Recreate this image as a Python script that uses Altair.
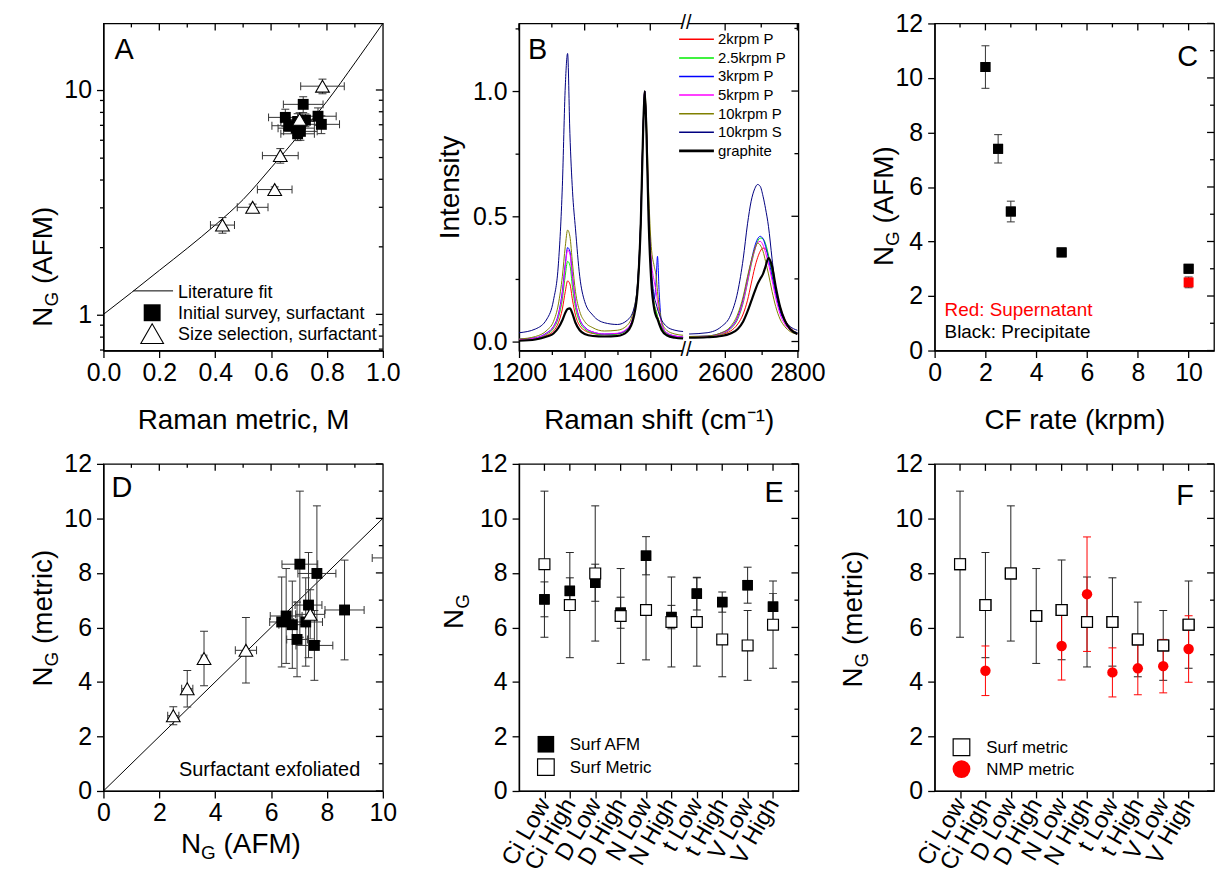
import altair as alt
import pandas as pd

FONT = "Liberation Sans"
W, H = 281, 329
TK, TKm = 7, 4
LW = 1.3
LBL, TTL = 25, 28

# ---------------- data ----------------
# Panel A
a_fit_M = [0.0, 0.1, 0.2, 0.3, 0.4, 0.5, 0.6, 0.7, 0.8, 0.9, 1.0]
a_fit_N = [1.0, 1.25, 1.57, 1.97, 2.5, 3.25, 4.5, 6.3, 8.9, 13.2, 19.8]
a_sq_M = [0.78, 0.723, 0.768, 0.705, 0.715, 0.695, 0.695, 0.663, 0.651, 0.69]
a_sq_Merr = [0.065, 0.06, 0.065, 0.06, 0.071, 0.06, 0.06, 0.06, 0.06, 0.065]
a_sq_N = [7.03, 7.34, 7.64, 6.54, 8.63, 6.38, 7.24, 6.93, 7.55, 6.76]
a_sq_Nerr = [0.64, 0.48, 0.68, 0.57, 0.7, 0.43, 0.6, 0.37, 0.66, 0.48]
a_tr_M = [0.784, 0.702, 0.633, 0.613, 0.534, 0.426]
a_tr_Merr = [0.078, 0.065, 0.064, 0.062, 0.055, 0.043]
a_tr_N = [10.4, 7.4, 5.1, 3.6, 3.0, 2.5]
a_tr_Nerr = [0.78, 0.52, 0.38, 0.1, 0.1, 0.2]

# Panel B
b_x1 = [1200, 1250, 1285, 1305, 1320, 1332, 1341, 1348, 1355, 1363, 1372, 1385, 1400,
        1425, 1460, 1500, 1530, 1550, 1562, 1571, 1578, 1583, 1588, 1595, 1603, 1612,
        1618, 1622, 1627, 1635, 1650, 1675, 1700]
b_x2 = [2500, 2550, 2590, 2615, 2635, 2650, 2662, 2672, 2682, 2690, 2697, 2705, 2712,
        2720, 2730, 2740, 2752, 2765, 2780, 2800]
b_names = ["2krpm P", "2.5krpm P", "3krpm P", "5krpm P", "10krpm P", "10krpm S", "graphite"]
b_colors = ["#ff0000", "#00ee00", "#0000ff", "#ff00ff", "#808000", "#000080", "#000000"]
b_widths = [1, 1, 1, 1, 1, 1, 2.2]
red1 = [.006, .011, .025, .042, .075, .13, .2, .242, .23, .165, .105, .063, .044, .032, .027, .03, .048,
        .105, .22, .47, .83, 1.0, .85, .5, .26, .15, .12, .1, .08, .055, .03, .02, .016]
green1 = [.006, .012, .03, .052, .095, .17, .265, .32, .305, .215, .135, .078, .05, .034, .027, .03, .048,
          .105, .22, .47, .83, 1.0, .85, .5, .26, .15, .12, .1, .08, .055, .03, .02, .016]
blue1 = [.01, .015, .035, .06, .11, .2, .31, .375, .36, .26, .16, .09, .058, .038, .03, .032, .05,
         .11, .23, .48, .84, 1.0, .86, .5, .26, .17, .25, .34, .2, .07, .035, .022, .018]
magenta1 = [.008, .014, .033, .058, .105, .19, .3, .365, .35, .25, .155, .088, .056, .038, .03, .033, .052,
            .11, .23, .48, .84, 1.0, .87, .55, .33, .24, .2, .16, .12, .07, .035, .022, .018]
olive1 = [.01, .02, .045, .08, .15, .26, .38, .445, .42, .31, .2, .12, .08, .055, .042, .045, .065,
          .13, .25, .5, .85, 1.0, .9, .6, .38, .3, .26, .2, .14, .08, .045, .03, .025]
navy1 = [.035, .05, .09, .165, .31, .62, 1.02, 1.15, .83, .6, .45, .26, .16, .105, .075, .068, .085,
         .13, .25, .5, .85, 1.0, .86, .52, .3, .18, .15, .13, .11, .085, .06, .045, .04]
graphite1 = [.003, .008, .02, .032, .055, .085, .115, .13, .132, .11, .075, .045, .03, .022, .02, .022, .04,
             .1, .22, .47, .83, 1.0, .85, .48, .24, .13, .1, .09, .07, .045, .025, .015, .012]
red2 = [.018, .02, .028, .042, .07, .11, .165, .23, .295, .335, .36, .373, .37, .34, .28, .21, .14, .09, .055, .035]
green2 = [.018, .02, .03, .05, .09, .155, .235, .305, .365, .4, .413, .41, .39, .345, .275, .2, .13, .085, .052, .035]
blue2 = [.02, .022, .035, .055, .1, .17, .25, .32, .38, .41, .42, .41, .38, .33, .26, .19, .12, .08, .05, .035]
magenta2 = [.018, .02, .032, .052, .095, .16, .24, .31, .365, .395, .4, .385, .355, .31, .245, .175, .11, .07, .045, .03]
olive2 = [.02, .022, .035, .06, .11, .18, .26, .32, .37, .393, .385, .36, .32, .27, .2, .14, .09, .06, .04, .03]
navy2 = [.03, .035, .06, .105, .2, .33, .47, .56, .61, .627, .62, .58, .53, .46, .33, .21, .13, .085, .06, .045]
graphite2 = [.015, .017, .022, .032, .05, .08, .12, .16, .2, .23, .25, .27, .3, .333, .3, .22, .14, .085, .05, .03]
b_seg1 = [red1, green1, blue1, magenta1, olive1, navy1, graphite1]
b_seg2 = [red2, green2, blue2, magenta2, olive2, navy2, graphite2]

# Panel C
c_x = [2, 2.5, 3, 5, 10]
c_y = [10.4, 7.4, 5.1, 3.6, 3.0]
c_err = [0.78, 0.52, 0.38, 0.1, 0.1]
c_red_x = [10]
c_red_y = [2.5]
c_red_err = [0.2]

# Panels D, E, F
cats = ["Ci Low", "Ci High", "D Low", "D High", "N Low", "N High", "t Low", "t High", "V Low", "V High"]
surf_afm = [7.03, 7.34, 7.64, 6.54, 8.63, 6.38, 7.24, 6.93, 7.55, 6.76]
surf_afm_err = [0.64, 0.48, 0.68, 0.57, 0.7, 0.43, 0.6, 0.37, 0.66, 0.48]
surf_met = [8.32, 6.82, 7.98, 6.42, 6.64, 6.2, 6.2, 5.56, 5.34, 6.1]
surf_met_err = [2.68, 1.93, 2.48, 1.74, 1.83, 1.65, 1.62, 1.37, 1.28, 1.6]
d_tr_x = [2.5, 3.0, 3.6, 5.1, 7.4, 10.4]
d_tr_xerr = [0.2, 0.2, 0.1, 0.38, 0.52, 0.78]
d_tr_y = [2.76, 3.75, 4.86, 5.16, 6.48, 8.55]
d_tr_yerr = [0.33, 0.67, 1.0, 1.2, 0.9, 1.0]
nmp_cats = ["Ci High", "N Low", "N High", "t Low", "t High", "V Low", "V High"]
nmp_met = [4.41, 5.32, 7.22, 4.35, 4.5, 4.58, 5.21]
nmp_err = [0.91, 1.25, 2.1, 0.9, 0.97, 0.98, 1.22]

one = pd.DataFrame({"k": [0]})


# ---------------- helpers ----------------
def ax(values, major, fmt, **kw):
    d = dict(values=values,
             labelExpr=f"({major}) ? format(datum.value, '{fmt}') : ''",
             tickSize={"condition": {"test": major, "value": TK}, "value": TKm})
    d.setdefault("title", None)
    d.update(kw)
    return alt.Axis(**d)


def label(s, x, y, size, color="black", align="left", baseline="alphabetic", angle=None):
    props = dict(text=s, fontSize=size, color=color, align=align, baseline=baseline, font=FONT)
    if angle is not None:
        props["angle"] = angle
    return alt.Chart(one).mark_text(**props).encode(x=alt.value(x), y=alt.value(y))


def ng_v(x, y, rest):
    out = [label("N", x, y, TTL, angle=270), label("G", x + 6, y - 20.2, 19, angle=270)]
    if rest:
        out.append(label(rest, x, y - 42.8, TTL, angle=270))
    return out


def ng_h(x, y, rest):
    return [label("N", x, y, TTL), label("G", x + 20.2, y + 6, 19), label(rest, x + 42.8, y, TTL)]


def xenc(field, xs, sort=None):
    if sort is not None:
        return alt.X(f"{field}:N", scale=xs, sort=sort)
    return alt.X(f"{field}:Q", scale=xs)


def yenc(field, ys):
    return alt.Y(f"{field}:Q", scale=ys)


def top_ticks(major, minor, xs, sort=None):
    out = []
    for grp, size in ((major, TK), (minor, TKm)):
        if grp:
            df = pd.DataFrame({"v": grp})
            out.append(alt.Chart(df).mark_rule(color="black", strokeWidth=LW).encode(
                x=xenc("v", xs, sort), y=alt.value(0), y2=alt.value(size)))
    return out


def right_ticks(major, minor, ys):
    out = []
    for grp, size in ((major, TK), (minor, TKm)):
        if grp:
            df = pd.DataFrame({"v": grp})
            out.append(alt.Chart(df).mark_rule(color="black", strokeWidth=LW).encode(
                y=yenc("v", ys), x=alt.value(W), x2=alt.value(W - size)))
    return out


def yerrs(df, xf, yf, ef, xs, ys, color="#333333", cap=8, sort=None, clip=False):
    d = df.copy()
    d["lo"] = d[yf] - d[ef]
    d["hi"] = d[yf] + d[ef]
    base = alt.Chart(d)
    X = xenc(xf, xs, sort)
    r = base.mark_rule(color=color, strokeWidth=1, clip=clip).encode(x=X, y=yenc("lo", ys), y2="hi:Q")
    c1 = base.mark_tick(orient="horizontal", size=cap, thickness=1, color=color, clip=clip, opacity=1).encode(
        x=X, y=yenc("lo", ys))
    c2 = base.mark_tick(orient="horizontal", size=cap, thickness=1, color=color, clip=clip, opacity=1).encode(
        x=X, y=yenc("hi", ys))
    return [r, c1, c2]


def xerrs(df, xf, yf, ef, xs, ys, color="#333333", cap=8, clip=False):
    d = df.copy()
    d["lo"] = d[xf] - d[ef]
    d["hi"] = d[xf] + d[ef]
    base = alt.Chart(d)
    Y = yenc(yf, ys)
    r = base.mark_rule(color=color, strokeWidth=1, clip=clip).encode(y=Y, x=xenc("lo", xs), x2="hi:Q")
    c1 = base.mark_tick(orient="vertical", size=cap, thickness=1, color=color, clip=clip, opacity=1).encode(
        y=Y, x=xenc("lo", xs))
    c2 = base.mark_tick(orient="vertical", size=cap, thickness=1, color=color, clip=clip, opacity=1).encode(
        y=Y, x=xenc("hi", xs))
    return [r, c1, c2]


def sq_filled(size=110, color="black"):
    return dict(shape="square", filled=True, color=color, size=size, opacity=1)


def sq_open(size=120):
    return dict(shape="square", filled=True, fill="white", stroke="black", strokeWidth=1.2, size=size, opacity=1)


def tri_open(size=170):
    return dict(shape="triangle-up", filled=True, fill="white", stroke="black", strokeWidth=1.1, size=size, opacity=1)


EVEN = "datum.value % 2 == 0"
XTP = 21  # bottom axis title padding

# ---------------- Panel A ----------------
xsA = alt.Scale(domain=[0, 1], nice=False, zero=False)
ysA = alt.Scale(type="log", domain=[0.69, 19.8], nice=False)
a_yvals = [0.7, 0.8, 0.9, 1, 2, 3, 4, 5, 6, 7, 8, 9, 10]
a_major_x = "abs(round(datum.value*5) - datum.value*5) < 0.001"
fitA = pd.DataFrame({"M": a_fit_M, "N": a_fit_N})
lineA = alt.Chart(fitA).mark_line(color="black", strokeWidth=1, interpolate="monotone").encode(
    x=alt.X("M:Q", scale=xsA,
            axis=ax([i / 10 for i in range(11)], a_major_x, ".1f", title="Raman metric, M", titlePadding=XTP)),
    y=alt.Y("N:Q", scale=ysA,
            axis=alt.Axis(values=a_yvals,
                          labelExpr="(datum.value == 1 || datum.value == 10) ? format(datum.value, 'd') : ''",
                          tickSize={"condition": {"test": "datum.value == 1 || datum.value == 10", "value": TK},
                                    "value": TKm},
                          title=None)))
sqA = pd.DataFrame({"M": a_sq_M, "Me": a_sq_Merr, "N": a_sq_N, "Ne": a_sq_Nerr})
trA = pd.DataFrame({"M": a_tr_M, "Me": a_tr_Merr, "N": a_tr_N, "Ne": a_tr_Nerr})
A_layers = [lineA]
A_layers += top_ticks([0.2, 0.4, 0.6, 0.8], [0.1, 0.3, 0.5, 0.7, 0.9], xsA)
A_layers += right_ticks([1, 10], [0.7, 0.8, 0.9, 2, 3, 4, 5, 6, 7, 8, 9], ysA)
A_layers += xerrs(sqA, "M", "N", "Me", xsA, ysA) + yerrs(sqA, "M", "N", "Ne", xsA, ysA)
A_layers += xerrs(trA, "M", "N", "Me", xsA, ysA) + yerrs(trA, "M", "N", "Ne", xsA, ysA)
A_layers.append(alt.Chart(sqA).mark_point(**sq_filled(120)).encode(x=xenc("M", xsA), y=yenc("N", ysA)))
A_layers.append(alt.Chart(trA).mark_point(**tri_open(190)).encode(x=xenc("M", xsA), y=yenc("N", ysA)))
A_layers.append(label("A", 11, 36, 29))
A_layers.append(alt.Chart(one).mark_rule(color="black", strokeWidth=1).encode(
    x=alt.value(30), x2=alt.value(70), y=alt.value(269)))
A_layers.append(alt.Chart(one).mark_point(**sq_filled(290)).encode(x=alt.value(49), y=alt.value(291)))
A_layers.append(alt.Chart(one).mark_point(**tri_open(520)).encode(x=alt.value(49), y=alt.value(312)))
A_layers.append(label("Literature fit", 75, 271, 18, baseline="middle"))
A_layers.append(label("Initial survey, surfactant", 75, 292, 18, baseline="middle"))
A_layers.append(label("Size selection, surfactant", 75, 313, 18, baseline="middle"))
A_layers += ng_v(-52, 305, "(AFM)")
A = alt.layer(*A_layers).properties(width=W, height=H)

# ---------------- Panel B ----------------
xsB = alt.Scale(domain=[1200, 1700, 2500, 2803], range=[0, 165, 171, W], nice=False, zero=False)
ysB = alt.Scale(domain=[-0.036, 1.27], nice=False, zero=False)
B_layers = []
for i, name in enumerate(b_names):
    rows = [{"x": x, "y": v, "seg": 1} for x, v in zip(b_x1, b_seg1[i])]
    rows += [{"x": x, "y": v, "seg": 2} for x, v in zip(b_x2, b_seg2[i])]
    df = pd.DataFrame(rows)
    if i == 0:
        xe = alt.X("x:Q", scale=xsB,
                   axis=ax([1200, 1300, 1400, 1500, 1600, 2600, 2700, 2800], "datum.value % 200 == 0", "d",
                           title="Raman shift (cm\u207b\u00b9)", titlePadding=XTP))
        ye = alt.Y("y:Q", scale=ysB,
                   axis=ax([0, 0.25, 0.5, 0.75, 1.0, 1.25],
                           "abs(round(datum.value*2) - datum.value*2) < 0.001", ".1f",
                           title="Intensity", titlePadding=8))
    else:
        xe = alt.X("x:Q", scale=xsB)
        ye = alt.Y("y:Q", scale=ysB)
    B_layers.append(alt.Chart(df).mark_line(color=b_colors[i], strokeWidth=b_widths[i],
                                            interpolate="monotone").encode(x=xe, y=ye, detail="seg:N"))
B_layers += top_ticks([1200, 1400, 1600, 2600, 2800], [1300, 1500, 2700], xsB)
B_layers += right_ticks([0, 0.5, 1.0], [0.25, 0.75, 1.25], ysB)
for yy in (0, H):
    B_layers.append(alt.Chart(one).mark_rule(color="white", strokeWidth=5).encode(
        x=alt.X(datum=1703, type="quantitative", scale=xsB),
        x2=alt.X2(datum=2497), y=alt.value(yy)))
    B_layers.append(alt.Chart(one).mark_text(text="//", fontSize=20, font=FONT, baseline="middle",
                                             align="center").encode(
        x=alt.X(datum=2100, type="quantitative", scale=xsB), y=alt.value(yy)))
for i, name in enumerate(b_names):
    yy = 16 + i * 18.7
    B_layers.append(alt.Chart(one).mark_rule(color=b_colors[i], strokeWidth=b_widths[i] + 0.5).encode(
        x=alt.value(161), x2=alt.value(196), y=alt.value(yy)))
    B_layers.append(label(name, 200, yy, 15, baseline="middle"))
B_layers.append(label("B", 9, 36, 29))
B = alt.layer(*B_layers).properties(width=W, height=H)

# ---------------- Panel C ----------------
xsC = alt.Scale(domain=[0, 11], nice=False, zero=False)
ysC = alt.Scale(domain=[0, 12], nice=False, zero=False)
cdf = pd.DataFrame({"x": c_x, "y": c_y, "e": c_err})
cred = pd.DataFrame({"x": c_red_x, "y": c_red_y, "e": c_red_err})
C_layers = [alt.Chart(cdf).mark_point(**sq_filled(100)).encode(
    x=alt.X("x:Q", scale=xsC, axis=ax(list(range(0, 12)), "datum.value % 2 == 0 && datum.value <= 10", "d",
                                      title="CF rate (krpm)", titlePadding=XTP)),
    y=alt.Y("y:Q", scale=ysC, axis=ax(list(range(0, 13)), EVEN, "d")))]
C_layers += yerrs(cdf, "x", "y", "e", xsC, ysC) + yerrs(cred, "x", "y", "e", xsC, ysC)
C_layers.append(alt.Chart(cdf).mark_point(**sq_filled(100)).encode(x=xenc("x", xsC), y=yenc("y", ysC)))
C_layers.append(alt.Chart(cred).mark_point(**sq_filled(100, "#ff0000")).encode(x=xenc("x", xsC), y=yenc("y", ysC)))
C_layers += top_ticks([2, 4, 6, 8, 10], [1, 3, 5, 7, 9], xsC)
C_layers += right_ticks([0, 2, 4, 6, 8, 10, 12], [1, 3, 5, 7, 9, 11], ysC)
C_layers.append(label("C", 244, 43, 29))
C_layers.append(label("Red: Supernatant", 10, 294, 19, color="#ff0000"))
C_layers.append(label("Black: Precipitate", 10, 316, 19))
C_layers += ng_v(-42, 244, "(AFM)")
C = alt.layer(*C_layers).properties(width=W, height=H)

# ---------------- Panel D ----------------
xsD = alt.Scale(domain=[0, 10], nice=False, zero=False)
ysD = alt.Scale(domain=[0, 12], nice=False, zero=False)
idline = pd.DataFrame({"a": [0, 10], "b": [0, 10]})
dsq = pd.DataFrame({"x": surf_afm, "xe": surf_afm_err, "y": surf_met, "ye": surf_met_err})
dtr = pd.DataFrame({"x": d_tr_x, "xe": d_tr_xerr, "y": d_tr_y, "ye": d_tr_yerr})
D_layers = [alt.Chart(idline).mark_line(color="black", strokeWidth=1).encode(
    x=alt.X("a:Q", scale=xsD, axis=ax(list(range(0, 11)), EVEN, "d")),
    y=alt.Y("b:Q", scale=ysD, axis=ax(list(range(0, 13)), EVEN, "d")))]
D_layers += top_ticks([2, 4, 6, 8], [1, 3, 5, 7, 9], xsD)
D_layers += right_ticks([0, 2, 4, 6, 8, 10, 12], [1, 3, 5, 7, 9, 11], ysD)
D_layers += yerrs(dsq, "x", "y", "ye", xsD, ysD) + xerrs(dsq, "x", "y", "xe", xsD, ysD)
D_layers += yerrs(dtr, "x", "y", "ye", xsD, ysD, clip=True) + xerrs(dtr, "x", "y", "xe", xsD, ysD, clip=True)
D_layers.append(alt.Chart(dsq).mark_point(**sq_filled(120)).encode(x=xenc("x", xsD), y=yenc("y", ysD)))
D_layers.append(alt.Chart(dtr).mark_point(clip=True, **tri_open(190)).encode(x=xenc("x", xsD), y=yenc("y", ysD)))
D_layers.append(label("D", 8, 33, 29))
D_layers.append(label("Surfactant exfoliated", 76, 314, 20))
D_layers += ng_v(-52, 224, "(metric)")
D_layers += ng_h(78, 391, "(AFM)")
D = alt.layer(*D_layers).properties(width=W, height=H)

# ---------------- Panel E ----------------
xsE = alt.Scale(type="point", domain=cats, padding=1)
ysE = alt.Scale(domain=[0, 12], nice=False, zero=False)
edf = pd.DataFrame({"c": cats, "afm": surf_afm, "afme": surf_afm_err, "met": surf_met, "mete": surf_met_err})
cat_axis = alt.Axis(title=None, labelAngle=300, labelAlign="right", labelBaseline="middle",
                    labelFontSize=24, tickSize=TK, labelPadding=2)
E_layers = [alt.Chart(edf).mark_point(**sq_filled(110)).encode(
    x=alt.X("c:N", scale=xsE, sort=cats, axis=cat_axis),
    y=alt.Y("afm:Q", scale=ysE, axis=ax(list(range(0, 13)), EVEN, "d")))]
E_layers += yerrs(edf, "c", "met", "mete", xsE, ysE, color="#222222", sort=cats)
E_layers += yerrs(edf, "c", "afm", "afme", xsE, ysE, color="#222222", sort=cats)
E_layers.append(alt.Chart(edf).mark_point(**sq_filled(110)).encode(x=xenc("c", xsE, cats), y=yenc("afm", ysE)))
E_layers.append(alt.Chart(edf).mark_point(**sq_open(120)).encode(x=xenc("c", xsE, cats), y=yenc("met", ysE)))
E_layers += top_ticks(cats, [], xsE, sort=cats)
E_layers += right_ticks([0, 2, 4, 6, 8, 10, 12], [1, 3, 5, 7, 9, 11], ysE)
E_layers.append(label("E", 247, 38, 29))
E_layers.append(alt.Chart(one).mark_point(**sq_filled(280)).encode(x=alt.value(27), y=alt.value(282)))
E_layers.append(alt.Chart(one).mark_point(**sq_open(280)).encode(x=alt.value(27), y=alt.value(305)))
E_layers.append(label("Surf AFM", 51, 283, 17, baseline="middle"))
E_layers.append(label("Surf Metric", 51, 306, 17, baseline="middle"))
E_layers += ng_v(-56, 166, "")
E = alt.layer(*E_layers).properties(width=W, height=H)

# ---------------- Panel F ----------------
xsF = alt.Scale(type="point", domain=cats, padding=1)
ysF = alt.Scale(domain=[0, 12], nice=False, zero=False)
fdf = pd.DataFrame({"c": cats, "met": surf_met, "mete": surf_met_err})
ndf = pd.DataFrame({"c": nmp_cats, "v": nmp_met, "e": nmp_err})
F_layers = [alt.Chart(fdf).mark_point(**sq_open(120)).encode(
    x=alt.X("c:N", scale=xsF, sort=cats, axis=cat_axis),
    y=alt.Y("met:Q", scale=ysF, axis=ax(list(range(0, 13)), EVEN, "d")))]
F_layers += yerrs(fdf, "c", "met", "mete", xsF, ysF, color="#222222", sort=cats)
F_layers += yerrs(ndf, "c", "v", "e", xsF, ysF, color="#ff0000", sort=cats)
F_layers.append(alt.Chart(ndf).mark_point(shape="circle", filled=True, color="#ff0000", size=110, opacity=1).encode(
    x=xenc("c", xsF, cats), y=yenc("v", ysF)))
F_layers.append(alt.Chart(fdf).mark_point(**sq_open(120)).encode(x=xenc("c", xsF, cats), y=yenc("met", ysF)))
F_layers += top_ticks(cats, [], xsF, sort=cats)
F_layers += right_ticks([0, 2, 4, 6, 8, 10, 12], [1, 3, 5, 7, 9, 11], ysF)
F_layers.append(label("F", 243, 41, 29))
F_layers.append(alt.Chart(one).mark_point(**sq_open(280)).encode(x=alt.value(27), y=alt.value(285)))
F_layers.append(alt.Chart(one).mark_point(shape="circle", filled=True, color="#ff0000", size=320, opacity=1).encode(
    x=alt.value(27), y=alt.value(307)))
F_layers.append(label("Surf metric", 52, 286, 17, baseline="middle"))
F_layers.append(label("NMP metric", 52, 308, 17, baseline="middle"))
F_layers += ng_v(-73, 225, "(metric)")
F = alt.layer(*F_layers).properties(width=W, height=H)

# ---------------- compose ----------------
chart = alt.concat(A, B, C, D, E, F, columns=3, spacing={"row": 114, "column": 137}, bounds="flush").properties(
    padding={"left": 21, "top": 0, "right": 0, "bottom": 0}
).configure(font=FONT).configure_view(
    stroke="black", strokeWidth=LW
).configure_axis(
    labelFont=FONT, labelFontSize=LBL, labelColor="black", titleFont=FONT, titleFontSize=TTL,
    titleFontWeight="normal", titleColor="black", domainColor="black", domainWidth=LW,
    tickColor="black", tickWidth=LW, grid=False, labelOverlap=False, labelFlush=False
).configure_axisLeft(labelPadding=5).configure_axisBottom(labelPadding=3)

chart.save("out.html", embed_options={"renderer": "svg", "actions": False})
